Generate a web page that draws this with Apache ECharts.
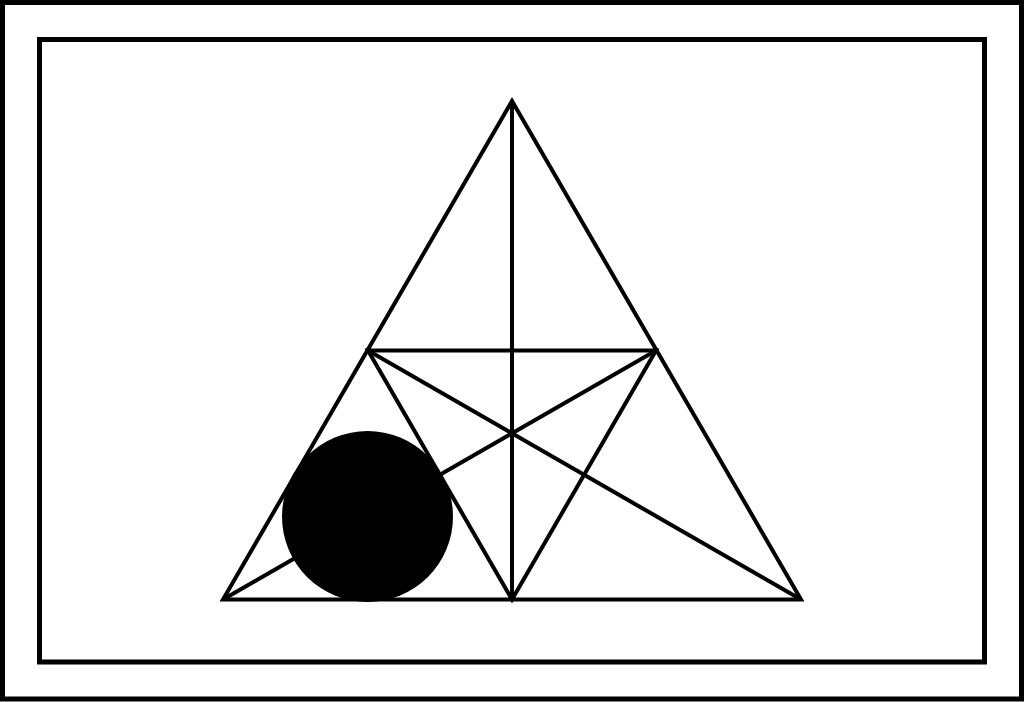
<!DOCTYPE html>
<html>
<head>
<meta charset="utf-8">
<style>
    html, body {margin: 0; padding: 0; background: #fff;}
    #chart {width: 1024px; height: 702px;}
</style>
<script src="https://cdn.jsdelivr.net/npm/echarts@6/dist/echarts.min.js"></script>
</head>
<body>
<div id="chart"></div>
<script>
// frames (page units, y grows downward); the first side is repeated so every corner gets a join
const outerFrame = [[2.5, 2.5], [1021.5, 2.5], [1021.5, 699], [2.5, 699], [2.5, 2.5], [1021.5, 2.5]];
const innerFrame = [[39.5, 39.5], [984.5, 39.5], [984.5, 662], [39.5, 662], [39.5, 39.5], [984.5, 39.5]];

// triangle points
const apex = [512, 101];
const leftBase = [223, 599.5];
const rightBase = [801, 599.5];
const leftMid = [368, 350.5];
const rightMid = [656, 350.5];
const baseMid = [512, 599.5];

const triangle = [leftBase, rightBase, apex, leftBase, rightBase];
const innerTriangle = [leftMid, rightMid, baseMid, leftMid, rightMid];
const segments = [
    [apex, baseMid],
    [leftMid, rightBase],
    [rightMid, leftBase]
];

// filled disc
const disc = [[367.5, 516.5]];

const chart = echarts.init(document.getElementById('chart'));

const lineSeries = (data, width) => ({
    type: 'line',
    data: data,
    symbol: 'none',
    silent: true,
    animation: false,
    lineStyle: {color: '#000', width: width, join: 'miter', cap: 'butt'}
});

const option = {
    backgroundColor: '#fff',
    animation: false,
    grid: {left: 0, right: 0, top: 0, bottom: 0},
    xAxis: {type: 'value', min: 0, max: 1024, show: false},
    yAxis: {type: 'value', min: 0, max: 702, inverse: true, show: false},
    series: [
        lineSeries(outerFrame, 5),
        lineSeries(innerFrame, 5),
        lineSeries(triangle, 4),
        lineSeries(innerTriangle, 4),
        ...segments.map(s => lineSeries(s, 4)),
        {
            type: 'scatter',
            data: disc,
            symbol: 'circle',
            symbolSize: 171,
            silent: true,
            itemStyle: {color: '#000', opacity: 1},
            z: 5
        }
    ]
};

chart.setOption(option);
</script>
</body>
</html>
